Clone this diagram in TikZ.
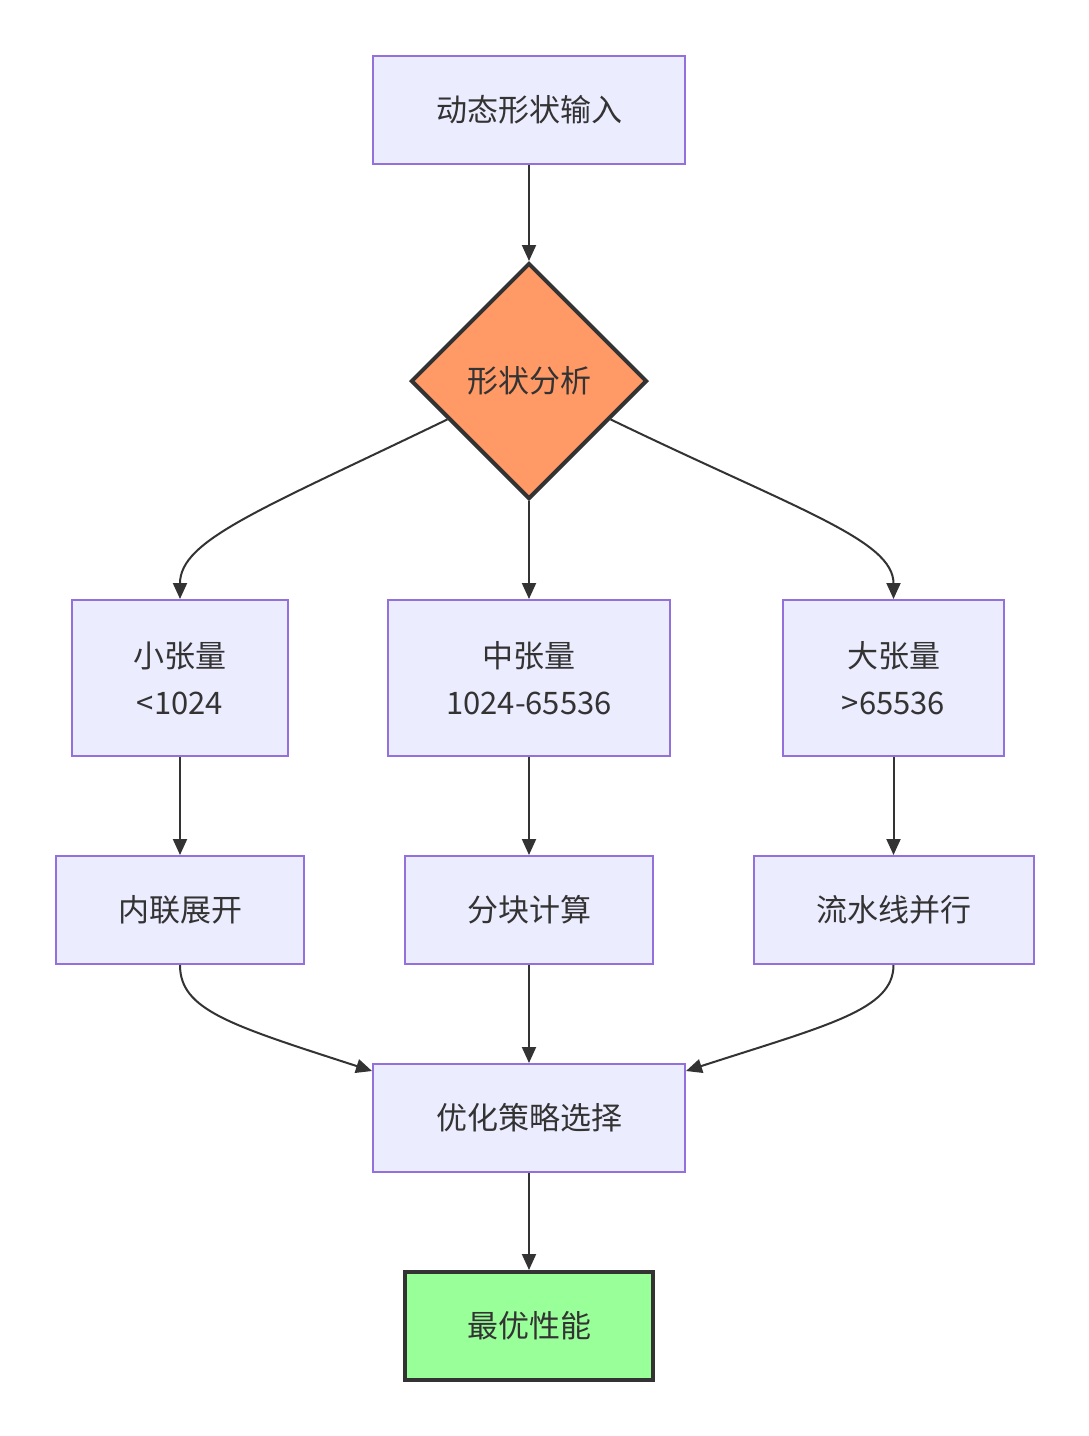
\documentclass[tikz,border=0pt]{standalone}
\usepackage{fontspec}
\setmainfont{Noto Sans CJK SC}
\usetikzlibrary{shapes.geometric,arrows.meta,calc}
\definecolor{boxfill}{HTML}{ECECFF}
\definecolor{boxline}{HTML}{9370DB}
\definecolor{txt}{HTML}{333333}
\definecolor{orangefill}{HTML}{FF9966}
\definecolor{greenfill}{HTML}{99FF99}
\begin{document}
\begin{tikzpicture}[x=1pt,y=-1pt,
  every node/.style={font=\fontsize{31}{47}\selectfont, text=txt, align=center, inner sep=0pt},
  box/.style={draw=boxline, fill=boxfill, line width=2pt, rectangle},
  dec/.style={draw=txt, fill=orangefill, line width=4pt, diamond, aspect=1, minimum width=236pt, minimum height=236pt},
  goal/.style={draw=txt, fill=greenfill, line width=4pt, rectangle},
  link/.style={draw=txt, line width=2pt, -{Triangle[length=16pt,width=14pt]}}
]
\useasboundingbox (0,0) rectangle (1089,1436);
\fill[white] (0,0) rectangle (1089,1436);

\node[box, minimum width=312pt, minimum height=108pt] (in) at (529,110) {动态形状输入};
\node[dec] (ana) at (529,381) {形状分析};

\node[box, minimum width=216pt, minimum height=156pt] (s) at (180,678) {小张量\\<1024};
\node[box, minimum width=282pt, minimum height=156pt] (m) at (529,678) {中张量\\1024-65536};
\node[box, minimum width=221pt, minimum height=156pt] (l) at (893.5,678) {大张量\\>65536};

\node[box, minimum width=248pt, minimum height=108pt] (s2) at (180,910) {内联展开};
\node[box, minimum width=248pt, minimum height=108pt] (m2) at (529,910) {分块计算};
\node[box, minimum width=280pt, minimum height=108pt] (l2) at (893.5,910) {流水线并行};

\node[box, minimum width=312pt, minimum height=108pt] (opt) at (529,1118) {优化策略选择};
\node[goal, minimum width=248pt, minimum height=108pt] (best) at (529,1326) {最优性能};

\draw[link] (in) -- (ana);
\draw[link] (ana) -- (m);
\draw[link] ($(ana.west)!0.32!(ana.south)$) .. controls (260,510) and (180,540) .. (s.north);
\draw[link] ($(ana.east)!0.32!(ana.south)$) .. controls (798,510) and (893.5,540) .. (l.north);

\draw[link] (s) -- (s2);
\draw[link] (m) -- (m2);
\draw[link] (l) -- (l2);

\draw[link] (s2.south) .. controls (180,1010) and (230,1025) .. ($(opt.north west)+(0,8)$);
\draw[link] (m2) -- (opt);
\draw[link] (l2.south) .. controls (893.5,1010) and (828,1025) .. ($(opt.north east)+(0,8)$);

\draw[link] (opt) -- (best);
\end{tikzpicture}
\end{document}
